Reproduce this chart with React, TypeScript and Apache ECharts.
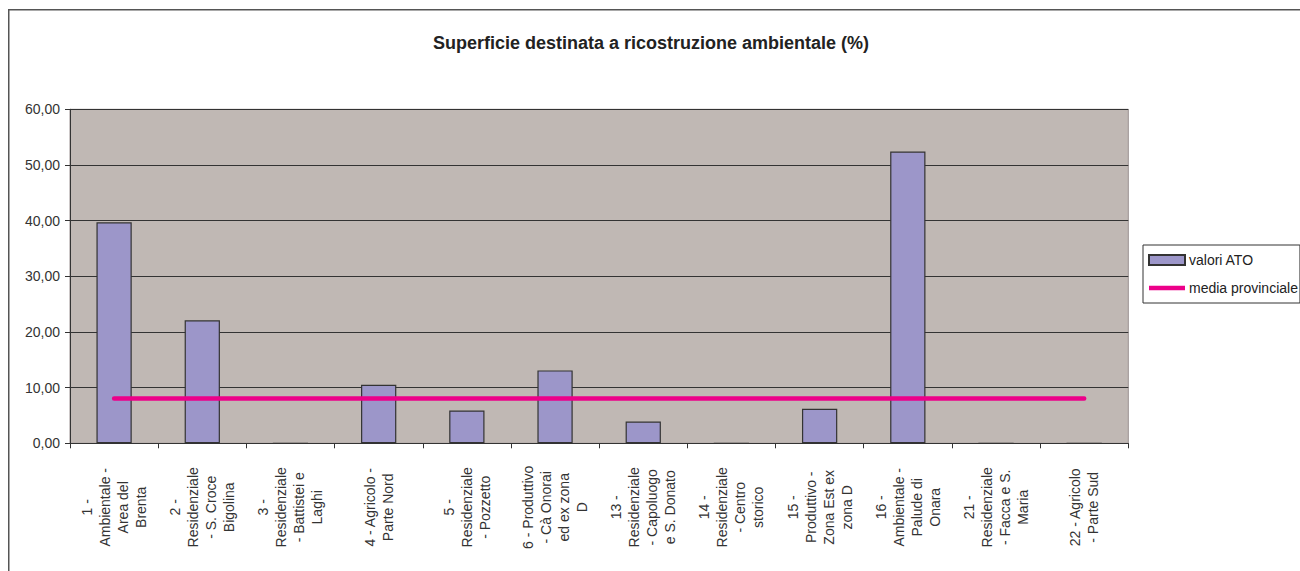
import React, { useEffect, useRef } from "react";
import * as echarts from "echarts";

const categories: string[] = [
  "1 -\nAmbientale -\nArea del\nBrenta",
  "2 -\nResidenziale\n- S. Croce\nBigolina",
  "3 -\nResidenziale\n- Battistei e\nLaghi",
  "4 - Agricolo -\nParte Nord",
  "5 -\nResidenziale\n- Pozzetto",
  "6 - Produttivo\n- Cà Onorai\ned ex zona\nD",
  "13 -\nResidenziale\n- Capoluogo\ne S. Donato",
  "14 -\nResidenziale\n- Centro\nstorico",
  "15 -\nProduttivo -\nZona Est ex\nzona D",
  "16 -\nAmbientale -\nPalude di\nOnara",
  "21 -\nResidenziale\n- Facca e S.\nMaria",
  "22 - Agricolo\n- Parte Sud",
];

const valoriATO: number[] = [39.7, 22.1, 0, 10.5, 5.9, 13.1, 3.9, 0, 6.2, 52.4, 0, 0];

const mediaProvinciale: number[] = [8.05, 8.05, 8.05, 8.05, 8.05, 8.05, 8.05, 8.05, 8.05, 8.05, 8.05, 8.05];

const yTicks = { min: 0, max: 60, interval: 10 };

const FONT = "'Liberation Sans', Arial, sans-serif";

export default function App() {
  const ref = useRef<HTMLDivElement>(null);

  useEffect(() => {
    if (!ref.current) return;
    const chart = echarts.init(ref.current, null, { renderer: "svg" });
    chart.setOption({
      animation: false,
      backgroundColor: "#ffffff",
      title: {
        text: "Superficie destinata a ricostruzione ambientale (%)",
        left: 651,
        textAlign: "center",
        top: 34,
        padding: 0,
        textStyle: {
          fontFamily: FONT,
          fontSize: 18,
          fontWeight: "bold",
          color: "#222222",
        },
      },
      graphic: [
        {
          type: "rect",
          silent: true,
          shape: { x: 8.75, y: 9.75, width: 1320, height: 600 },
          style: { fill: "none", stroke: "#555555", lineWidth: 1.5 },
          z: -1,
        },
      ],
      legend: {
        left: 1143,
        top: 245,
        orient: "vertical",
        padding: [8, 2, 8, 5],
        itemGap: 14,
        itemWidth: 36,
        itemHeight: 10,
        borderColor: "#333333",
        borderWidth: 1,
        backgroundColor: "#ffffff",
        textStyle: { fontFamily: FONT, fontSize: 14, color: "#222222", padding: [0, 0, 0, -1] },
        data: [
          { name: "valori ATO", icon: "rect" },
          { name: "media provinciale", icon: "path://M0,0L36,0L36,4.5L0,4.5Z" },
        ],
      },
      grid: {
        left: 70,
        top: 109.3,
        right: 171.7,
        bottom: 127.7,
        show: true,
        backgroundColor: "#C0B8B4",
        borderColor: "#9a9090",
        borderWidth: 1,
      },
      xAxis: {
        type: "category",
        data: categories,
        boundaryGap: true,
        axisLine: { show: true, lineStyle: { color: "#333333", width: 1 } },
        axisTick: { show: true, length: 5, inside: false, lineStyle: { color: "#333333" } },
        axisLabel: {
          interval: 0,
          rotate: 90,
          align: "center",
          verticalAlign: "middle",
          margin: 64,
          fontFamily: FONT,
          fontSize: 14,
          lineHeight: 18,
          color: "#333333",
        },
      },
      yAxis: {
        type: "value",
        min: yTicks.min,
        max: yTicks.max,
        interval: yTicks.interval,
        axisLine: { show: true, lineStyle: { color: "#333333", width: 1 } },
        axisTick: { show: true, length: 5, inside: false, lineStyle: { color: "#333333" } },
        splitLine: { show: true, lineStyle: { color: "#333333", width: 1 } },
        axisLabel: {
          margin: 10,
          fontFamily: FONT,
          fontSize: 14,
          color: "#333333",
          formatter: (v: number) => v.toFixed(2).replace(".", ","),
        },
      },
      series: [
        {
          name: "valori ATO",
          type: "bar",
          data: valoriATO,
          barWidth: "40%",
          itemStyle: { color: "#9C96C9", borderColor: "#333333", borderWidth: 1.2 },
          z: 2,
        },
        {
          name: "media provinciale",
          type: "line",
          data: mediaProvinciale,
          symbol: "none",
          lineStyle: { color: "#EC0089", width: 4.5, cap: "round" },
          itemStyle: { color: "#EC0089" },
          z: 3,
        },
      ],
    });
    return () => chart.dispose();
  }, []);

  return (
    <div
      ref={ref}
      style={{ position: "absolute", left: 0, top: 0, width: 1300, height: 571 }}
    />
  );
}
